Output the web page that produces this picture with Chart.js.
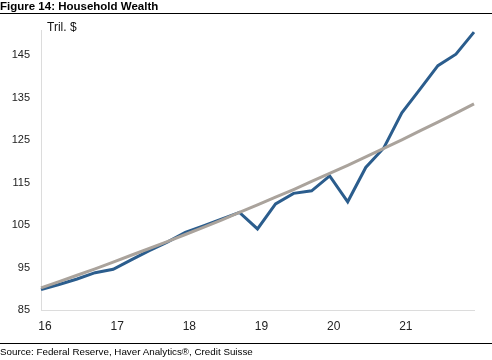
<!DOCTYPE html>
<html>
<head>
<meta charset="utf-8">
<script src="https://cdn.jsdelivr.net/npm/chart.js@4/dist/chart.umd.min.js"></script>
<style>
  html, body { margin: 0; padding: 0; background: #fff; }
  #wrap { position: relative; width: 492px; height: 360px; overflow: hidden; font-family: "Liberation Sans", Arial, sans-serif; }
  #titulo { position: absolute; left: 0; top: 0; font-size: 11.5px; font-weight: bold; color: #000; line-height: 13px; }
  #linea-top { position: absolute; left: 0; top: 13px; width: 492px; height: 1px; background: #000; }
  #unidad { position: absolute; left: 47px; top: 20px; font-size: 12px; color: #111; }
  #linea-bottom { position: absolute; left: 0; top: 343px; width: 492px; height: 1px; background: #000; }
  #fuente { position: absolute; left: 0; top: 346px; font-size: 9.8px; color: #000; }
  canvas { position: absolute; left: 0; top: 0; }
</style>
</head>
<body>
<div id="wrap">
  <canvas id="chartRiqueza" width="492" height="360"></canvas>
  <div id="titulo">Figure 14: Household Wealth</div>
  <div id="linea-top"></div>
  <div id="unidad">Tril. $</div>
  <div id="linea-bottom"></div>
  <div id="fuente">Source: Federal Reserve, Haver Analytics®, Credit Suisse</div>
</div>
<script>
// Trimestres (fin de trimestre)
const quarters = [
  "15Q4", "16Q1", "16Q2", "16Q3", "16Q4",
  "17Q1", "17Q2", "17Q3", "17Q4",
  "18Q1", "18Q2", "18Q3", "18Q4",
  "19Q1", "19Q2", "19Q3", "19Q4",
  "20Q1", "20Q2", "20Q3", "20Q4",
  "21Q1", "21Q2", "21Q3", "21Q4"
];

// Riqueza de los hogares, billones de $
const householdWealth = [
  89.8, 91.0, 92.3, 93.8, 94.6,
  96.8, 99.0, 101.0, 103.3,
  104.8, 106.4, 108.0, 104.1,
  110.0, 112.5, 113.1, 116.6,
  110.5, 118.6, 123.2, 131.5,
  137.0, 142.6, 145.3, 150.5
];

// Tendencia
const trendWealth = [
  90.2, 91.7, 93.2, 94.7, 96.3,
  97.9, 99.5, 101.1, 102.8,
  104.5, 106.2, 108.0, 109.8,
  111.6, 113.4, 115.3, 117.2,
  119.1, 121.1, 123.1, 125.1,
  127.2, 129.3, 131.4, 133.6
];

const xTickLabels = ["16", "17", "18", "19", "20", "21"];
const yTicks = [85, 95, 105, 115, 125, 135, 145];

const fuenteY = { family: "'Liberation Sans', Arial, sans-serif", size: 11 };
const fuenteX = { family: "'Liberation Sans', Arial, sans-serif", size: 12 };

const ctx = document.getElementById("chartRiqueza").getContext("2d");

new Chart(ctx, {
  type: "line",
  data: {
    labels: quarters,
    datasets: [
      {
        label: "Household wealth",
        data: householdWealth,
        borderColor: "#2b5d8d",
        borderWidth: 3,
        pointRadius: 0,
        tension: 0,
        order: 2
      },
      {
        label: "Trend",
        data: trendWealth,
        borderColor: "#aaa39c",
        borderWidth: 3,
        pointRadius: 0,
        tension: 0,
        order: 1
      }
    ]
  },
  options: {
    responsive: false,
    animation: false,
    layout: { padding: { top: 30, right: 18, left: 0, bottom: 24 } },
    plugins: {
      legend: { display: false },
      tooltip: { enabled: false }
    },
    scales: {
      x: {
        type: "category",
        offset: false,
        grid: { display: false, drawTicks: false },
        border: { display: true, color: "#dcdcdc", width: 1 },
        ticks: {
          autoSkip: false,
          maxRotation: 0,
          padding: 9,
          labelOffset: 4,
          color: "#222",
          font: fuenteX,
          callback: function (value, index) {
            const q = quarters[index];
            if (!q.endsWith("Q4")) return "";
            const siguiente = String(parseInt(q.slice(0, 2), 10) + 1);
            return xTickLabels.includes(siguiente) ? siguiente : "";
          }
        },
        afterFit: scale => { scale.height = 26; }
      },
      y: {
        min: 85,
        max: 151,
        grid: { display: false, drawTicks: false },
        border: { display: true, color: "#dcdcdc", width: 1 },
        afterBuildTicks: scale => {
          scale.ticks = yTicks.map(v => ({ value: v }));
        },
        ticks: {
          padding: 11,
          color: "#222",
          font: fuenteY
        },
        afterFit: scale => { scale.width = 41; }
      }
    }
  }
});
</script>
</body>
</html>
